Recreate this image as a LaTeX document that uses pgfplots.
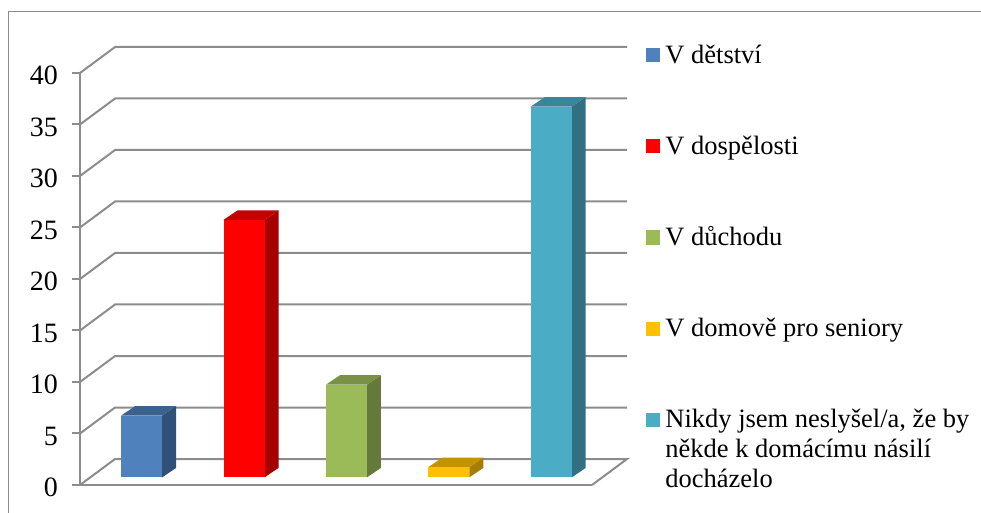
\documentclass[border=0pt]{standalone}
\usepackage{fontspec}
\setmainfont{Liberation Serif}
\usepackage{pgfplots}
\pgfplotsset{compat=1.18}
\definecolor{gridgray}{RGB}{140,140,140}
\definecolor{cBlue}{RGB}{79,129,189}
\definecolor{cBlueS}{RGB}{47,80,120}
\definecolor{cBlueT}{RGB}{59,97,142}
\definecolor{cRed}{RGB}{255,0,0}
\definecolor{cRedS}{RGB}{166,0,0}
\definecolor{cRedT}{RGB}{196,0,0}
\definecolor{cGreen}{RGB}{155,187,89}
\definecolor{cGreenS}{RGB}{101,122,58}
\definecolor{cGreenT}{RGB}{120,145,68}
\definecolor{cYellow}{RGB}{255,192,0}
\definecolor{cYellowS}{RGB}{166,125,0}
\definecolor{cYellowT}{RGB}{196,148,0}
\definecolor{cTeal}{RGB}{75,172,198}
\definecolor{cTealS}{RGB}{49,112,129}
\definecolor{cTealT}{RGB}{58,133,153}
\pgfplotsset{
  front/.style={ybar,bar shift=0pt,bar width=41pt,draw=none,fill=#1,shift={(10.4pt,7.6pt)},forget plot},
  face/.style={draw=none,fill=#1,shift={(10.4pt,7.6pt)},forget plot},
  key/.style={only marks,color=#1,mark=square*,mark size=6.6pt,mark options={line width=0.4pt,draw=#1,fill=#1}},
}
\begin{document}
\begin{tikzpicture}[x=1pt,y=1pt]
\path[use as bounding box] (0,0) rectangle (981,513);
\draw[gridgray,line width=1.2pt] (8.5,0) -- (8.5,501.5) -- (981,501.5);
\begin{axis}[
    at={(80pt,28pt)},
    anchor=south west,
    scale only axis,
    width=512pt,
    height=412pt,
    xmin=-0.5, xmax=4.5,
    ymin=0, ymax=40,
    clip=false,
    axis x line=bottom,
    axis y line=left,
    axis line style={gridgray,line width=2pt,-},
    xtick=\empty,
    ytick={0,5,...,40},
    tick align=outside,
    major tick length=8pt,
    y tick style={gridgray,line width=2pt},
    /pgf/number format/assume math mode=true,
    tick label style={font=\fontsize{28}{32}\selectfont},
    yticklabel style={inner sep=0pt,xshift=-14pt,yshift=-2.5pt},
    unbounded coords=jump,
    legend style={at={(1.1055,1.0735)},anchor=north west,draw=none,fill=none,inner sep=0pt,
      font=\fontsize{26.5}{30}\selectfont,row sep=67pt,column sep=4pt},
    legend cell align=left,
]
% back wall and floor
\addplot[gridgray,line width=2pt,forget plot] coordinates {
(-0.5,5)(-0.158,7.524)(4.842,7.524)(nan,nan)
(-0.5,10)(-0.158,12.524)(4.842,12.524)(nan,nan)
(-0.5,15)(-0.158,17.524)(4.842,17.524)(nan,nan)
(-0.5,20)(-0.158,22.524)(4.842,22.524)(nan,nan)
(-0.5,25)(-0.158,27.524)(4.842,27.524)(nan,nan)
(-0.5,30)(-0.158,32.524)(4.842,32.524)(nan,nan)
(-0.5,35)(-0.158,37.524)(4.842,37.524)(nan,nan)
(-0.5,40)(-0.158,42.524)(4.842,42.524)(nan,nan)
(-0.5,0)(-0.158,2.524)(4.842,2.524)(4.5,0)
};
% legend swatches
\addlegendimage{key=cBlue}
\addlegendentry{V dětství}
\addlegendimage{key=cRed}
\addlegendentry{V dospělosti}
\addlegendimage{key=cGreen}
\addlegendentry{V důchodu}
\addlegendimage{key=cYellow}
\addlegendentry{V domově pro seniory}
\addlegendimage{key=cTeal}
\addlegendentry{\parbox[t]{315pt}{\raggedright Nikdy jsem neslyšel/a, že by\\ někde k domácímu násilí\\ docházelo}}
% V detstvi
\addplot[face=cBlueS] coordinates {(0.2,0)(0.337,0.92)(0.337,6.92)(0.2,6)} --cycle;
\addplot[face=cBlueT] coordinates {(-0.2,6)(-0.063,6.92)(0.337,6.92)(0.2,6)} --cycle;
\addplot[front=cBlue] coordinates {(0,6)};
% V dospelosti
\addplot[face=cRedS] coordinates {(1.2,0)(1.337,0.92)(1.337,25.92)(1.2,25)} --cycle;
\addplot[face=cRedT] coordinates {(0.8,25)(0.937,25.92)(1.337,25.92)(1.2,25)} --cycle;
\addplot[front=cRed] coordinates {(1,25)};
% V duchodu
\addplot[face=cGreenS] coordinates {(2.2,0)(2.337,0.92)(2.337,9.92)(2.2,9)} --cycle;
\addplot[face=cGreenT] coordinates {(1.8,9)(1.937,9.92)(2.337,9.92)(2.2,9)} --cycle;
\addplot[front=cGreen] coordinates {(2,9)};
% V domove
\addplot[face=cYellowS] coordinates {(3.2,0)(3.337,0.92)(3.337,1.92)(3.2,1)} --cycle;
\addplot[face=cYellowT] coordinates {(2.8,1)(2.937,1.92)(3.337,1.92)(3.2,1)} --cycle;
\addplot[front=cYellow] coordinates {(3,1)};
% Nikdy
\addplot[face=cTealS] coordinates {(4.2,0)(4.337,0.92)(4.337,36.92)(4.2,36)} --cycle;
\addplot[face=cTealT] coordinates {(3.8,36)(3.937,36.92)(4.337,36.92)(4.2,36)} --cycle;
\addplot[front=cTeal] coordinates {(4,36)};
\end{axis}
\end{tikzpicture}
\end{document}
